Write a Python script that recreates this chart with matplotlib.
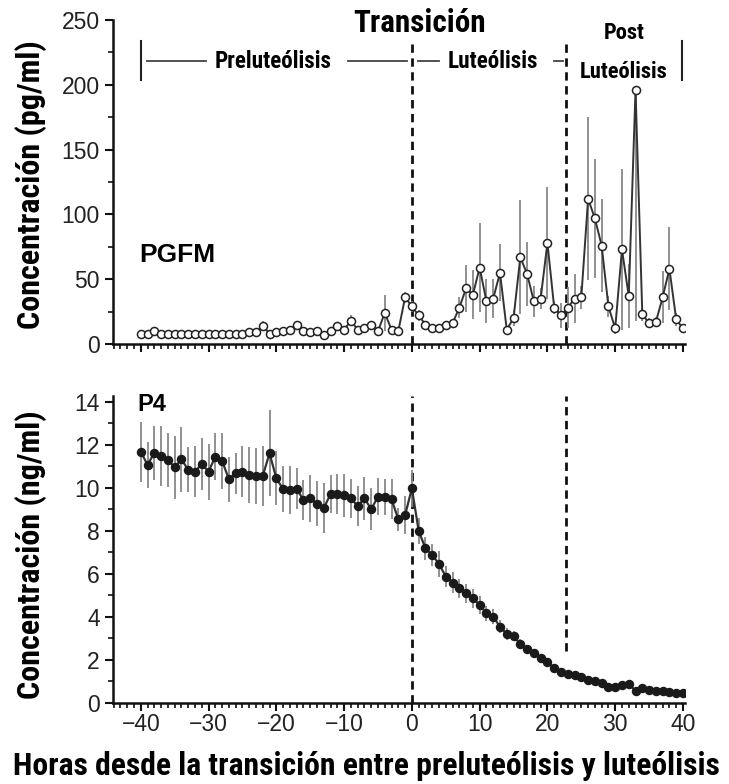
import numpy as np
import matplotlib
matplotlib.use("Agg")
import matplotlib.pyplot as plt
from matplotlib import font_manager
from matplotlib.ticker import MultipleLocator

names = {f.name for f in font_manager.fontManager.ttflist}
cands = ['Liberation Sans Narrow', 'Roboto Condensed', 'Arial Narrow', 'Open Sans Condensed']
NARROW = [c for c in cands if c in names] + ['Liberation Sans', 'DejaVu Sans']
IS_NARROW = NARROW[0] in cands
plt.rcParams['font.family'] = ['Liberation Sans', 'DejaVu Sans']

# ---------------- data ----------------
hours = list(range(-40, 41))

pgfm = [8, 8, 10, 8, 8, 8, 8, 8, 8, 8,
        8, 8, 8, 8, 8, 8, 9, 9, 14, 8,
        9, 10, 11, 15, 10, 9, 10, 7, 10, 14,
        11, 18, 11, 12, 15, 10, 24, 11, 10, 36,
        29, 22, 15, 12, 12, 15, 16, 28, 43, 38,
        59, 33, 35, 55, 11, 20, 67, 54, 33, 35,
        78, 28, 22, 28, 35, 36, 112, 97, 76, 29,
        12, 73, 37, 196, 23, 16, 17, 36, 58, 19,
        12]
pgfm_err_low = [2, 2, 2, 2, 2, 2, 2, 2, 2, 2,
                2, 2, 2, 2, 2, 2, 2, 2, 4, 2,
                2, 2, 3, 3, 2, 2, 2, 2, 2, 3,
                2, 4, 2, 3, 3, 2, 14, 2, 2, 4,
                4, 4, 3, 2, 2, 3, 3, 8, 18, 19,
                34, 17, 15, 22, 3, 6, 44, 25, 12, 8,
                43, 5, 10, 16, 19, 9, 63, 46, 36, 8,
                4, 62, 25, 178, 5, 4, 4, 20, 32, 5,
                3]
pgfm_err_high = pgfm_err_low[:73] + [0] + pgfm_err_low[74:]

p4 = [11.69, 11.07, 11.64, 11.49, 11.30, 10.96, 11.33, 10.84, 10.76, 11.12,
      10.76, 11.46, 11.27, 10.40, 10.68, 10.76, 10.60, 10.57, 10.57, 11.61,
      10.45, 9.95, 9.91, 9.96, 9.44, 9.52, 9.26, 9.06, 9.72, 9.72,
      9.67, 9.52, 9.16, 9.52, 9.01, 9.60, 9.57, 9.47, 8.54, 8.74,
      9.98, 8.01, 7.19, 6.88, 6.47, 5.88, 5.60, 5.33, 5.10, 4.87,
      4.56, 4.17, 4.01, 3.55, 3.21, 3.12, 2.74, 2.50, 2.31, 2.08,
      1.92, 1.61, 1.46, 1.35, 1.30, 1.22, 1.07, 1.03, 0.92, 0.76,
      0.76, 0.84, 0.88, 0.57, 0.68, 0.60, 0.57, 0.55, 0.51, 0.48,
      0.45]
p4_err = [1.4, 1.05, 1.25, 1.4, 1.25, 1.45, 1.5, 1.05, 1.2, 1.2,
          1.3, 1.1, 1.3, 1.05, 0.95, 1.2, 1.3, 1.3, 1.4, 2.0,
          1.25, 1.05, 1.1, 0.95, 0.93, 1.1, 1.05, 1.15, 0.9, 0.95,
          1.0, 0.9, 0.93, 1.0, 0.97, 0.88, 0.85, 0.93, 0.55, 0.9,
          0.85, 0.6, 0.55, 0.5, 0.6, 0.5, 0.5, 0.45, 0.45, 0.45,
          0.4, 0.35, 0.35, 0.3, 0.3, 0.25, 0.25, 0.2, 0.2, 0.2,
          0.18, 0.18, 0.15, 0.15, 0.15, 0.15, 0.12, 0.12, 0.12, 0.12,
          0.12, 0.12, 0.12, 0.1, 0.1, 0.1, 0.1, 0.1, 0.1, 0.1,
          0.1]

xticks = [-40, -30, -20, -10, 0, 10, 20, 30, 40]
xticklabels = ['\u221240', '\u221230', '\u221220', '\u221210', '0', '10', '20', '30', '40']
transitions = [0, 22.8]

# font sizes tuned to the reference's text widths
k = 1.15 if IS_NARROW else 1.0
FS_LABEL = 20.0 * k
FS_XLABEL = 19.8 * k
FS_TRANS = 19.5 * k
FS_PHASE = 14.5 * k

# ---------------- figure ----------------
W, H = 729, 784
fig = plt.figure(figsize=(W / 100, H / 100), dpi=100)
ax1 = fig.add_axes([113 / W, 1 - 344 / H, (685 - 113) / W, (344 - 20) / H])
ax2 = fig.add_axes([113 / W, 1 - 703 / H, (685 - 113) / W, (703 - 395.5) / H])

XL = (-44.1, 40.3)
for ax in (ax1, ax2):
    ax.set_xlim(*XL)
    for s in ('top', 'right'):
        ax.spines[s].set_visible(False)
    for s in ('left', 'bottom'):
        ax.spines[s].set_linewidth(1.8)
        ax.spines[s].set_color('#111111')
    ax.xaxis.set_major_locator(MultipleLocator(10))
    ax.xaxis.set_minor_locator(MultipleLocator(1))
    ax.tick_params(axis='both', which='major', direction='out', length=6, width=1.5,
                   labelsize=16.5, colors='#111111', labelcolor='#222222')
    ax.tick_params(axis='both', which='minor', direction='out', length=3.5, width=1.2,
                   colors='#111111')
    ax.tick_params(axis='x', which='major', pad=1.5)

# top panel
ax1.set_ylim(0, 250)
ax1.yaxis.set_major_locator(MultipleLocator(50))
ax1.yaxis.set_minor_locator(MultipleLocator(25))
ax1.set_xticks(xticks)
ax1.set_xticklabels([])
ax1.vlines(transitions, 0, 235, colors='#111111', linestyles=(0, (3, 2)), linewidth=2, zorder=1)
ax1.errorbar(hours, pgfm, yerr=[pgfm_err_low, pgfm_err_high], fmt='none',
             ecolor='#888888', elinewidth=1.3, capsize=0, zorder=2)
ax1.plot(hours, pgfm, '-', color='#333333', lw=1.4, zorder=3)
ax1.plot(hours, pgfm, 'o', mfc='white', mec='#222222', mew=1.1, ms=5.8, zorder=4)
ax1.set_ylabel('Concentración (pg/ml)', family=NARROW, fontsize=FS_LABEL, fontweight='bold')
ax1.yaxis.set_label_coords((47 - 113) / 572, (344 - 185) / 324)
ax1.text(-40.3, 69, 'PGFM', fontsize=19, fontweight='bold', ha='left', va='center')

# phase annotations
ax1.text(1.2, 248, 'Transición', family=NARROW, fontsize=FS_TRANS, fontweight='bold',
         ha='center', va='center', clip_on=False)
yb = 218
ax1.plot([-40, -40], [204, 234], color='#222222', lw=1.5, clip_on=False)
ax1.plot([39.8, 39.8], [204, 234], color='#222222', lw=1.5, clip_on=False)
ax1.plot([-39.1, -30.4], [yb, yb], color='#444444', lw=1.3)
ax1.text(-20.4, yb, 'Preluteólisis', family=NARROW, fontsize=FS_PHASE, fontweight='bold',
         ha='center', va='center')
ax1.plot([-9.4, -0.7], [yb, yb], color='#444444', lw=1.3)
ax1.plot([0.9, 4.0], [yb, yb], color='#444444', lw=1.3)
ax1.text(12.0, yb, 'Luteólisis', family=NARROW, fontsize=FS_PHASE, fontweight='bold',
         ha='center', va='center')
ax1.plot([21.0, 22.3], [yb, yb], color='#444444', lw=1.3)
ax1.text(31.3, 240, 'Post', family=NARROW, fontsize=FS_PHASE * 0.97, fontweight='bold',
         ha='center', va='center')
ax1.text(31.3, 210, 'Luteólisis', family=NARROW, fontsize=FS_PHASE * 0.97, fontweight='bold',
         ha='center', va='center')

# bottom panel
ax2.set_ylim(0, 14.3)
ax2.yaxis.set_major_locator(MultipleLocator(2))
ax2.yaxis.set_minor_locator(MultipleLocator(1))
ax2.set_xticks(xticks)
ax2.set_xticklabels(xticklabels)
ax2.vlines([transitions[0]], 0, 14.3, colors='#111111', linestyles=(0, (3, 2)), linewidth=2, zorder=1)
ax2.vlines([transitions[1]], 2.4, 14.3, colors='#111111', linestyles=(0, (3, 2)), linewidth=2, zorder=1)
ax2.errorbar(hours, p4, yerr=p4_err, fmt='none', ecolor='#888888', elinewidth=1.3,
             capsize=0, zorder=2)
ax2.plot(hours, p4, '-', color='#333333', lw=1.6, zorder=3)
ax2.plot(hours, p4, 'o', mfc='#1a1a1a', mec='#1a1a1a', ms=5.8, zorder=4)
ax2.set_ylabel('Concentración (ng/ml)', family=NARROW, fontsize=FS_LABEL, fontweight='bold')
ax2.yaxis.set_label_coords((47 - 113) / 572, (703 - 555) / 307.5)
ax2.set_xlabel('Horas desde la transición entre preluteólisis y luteólisis', family=NARROW,
               fontsize=FS_XLABEL, fontweight='bold')
ax2.xaxis.set_label_coords((366 - 113) / 572, (703 - 751) / 307.5)
ax2.text(-40.5, 13.9, 'P4', fontsize=17, fontweight='bold', ha='left', va='center')

fig.savefig('out.png', dpi=100)
